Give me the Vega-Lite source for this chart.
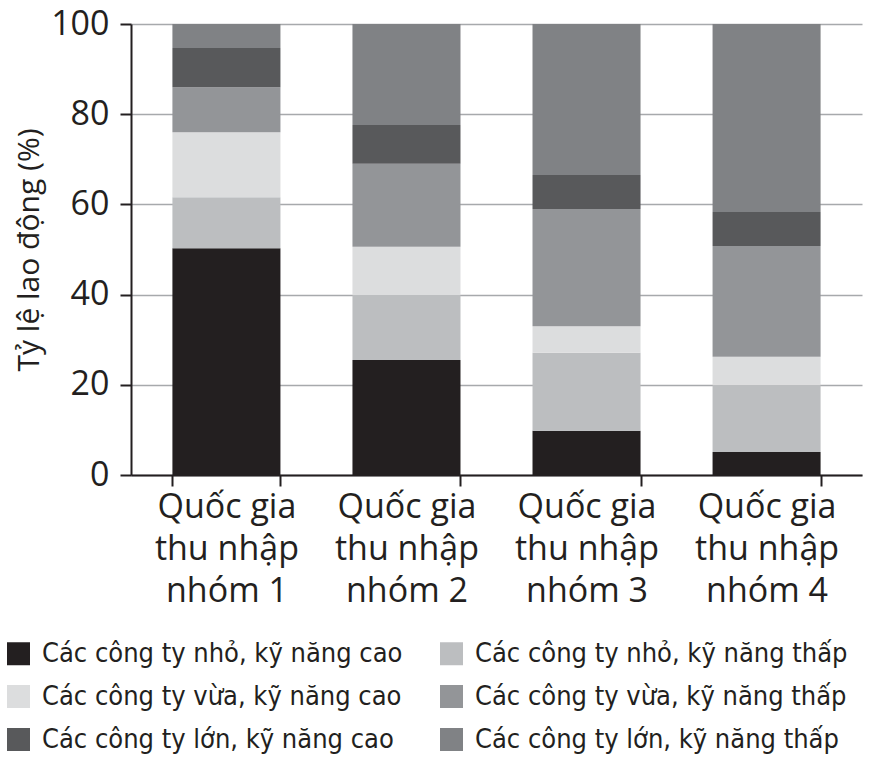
{
  "$schema": "https://vega.github.io/schema/vega-lite/v6.json",
  "width": 731,
  "height": 451,
  "autosize": {"type": "none"},
  "padding": {"left": 131, "top": 24, "right": 12, "bottom": 284},
  "config": {"view": {"stroke": null}, "font": "Open Sans"},
  "data": {
    "values": [
      {"group": "Quốc gia|thu nhập|nhóm 1", "series": "Các công ty nhỏ, kỹ năng cao", "ord": 1, "value": 50.3},
      {"group": "Quốc gia|thu nhập|nhóm 1", "series": "Các công ty nhỏ, kỹ năng thấp", "ord": 2, "value": 11.3},
      {"group": "Quốc gia|thu nhập|nhóm 1", "series": "Các công ty vừa, kỹ năng cao", "ord": 3, "value": 14.4},
      {"group": "Quốc gia|thu nhập|nhóm 1", "series": "Các công ty vừa, kỹ năng thấp", "ord": 4, "value": 10.0},
      {"group": "Quốc gia|thu nhập|nhóm 1", "series": "Các công ty lớn, kỹ năng cao", "ord": 5, "value": 8.7},
      {"group": "Quốc gia|thu nhập|nhóm 1", "series": "Các công ty lớn, kỹ năng thấp", "ord": 6, "value": 5.3},
      {"group": "Quốc gia|thu nhập|nhóm 2", "series": "Các công ty nhỏ, kỹ năng cao", "ord": 1, "value": 25.5},
      {"group": "Quốc gia|thu nhập|nhóm 2", "series": "Các công ty nhỏ, kỹ năng thấp", "ord": 2, "value": 14.4},
      {"group": "Quốc gia|thu nhập|nhóm 2", "series": "Các công ty vừa, kỹ năng cao", "ord": 3, "value": 10.7},
      {"group": "Quốc gia|thu nhập|nhóm 2", "series": "Các công ty vừa, kỹ năng thấp", "ord": 4, "value": 18.4},
      {"group": "Quốc gia|thu nhập|nhóm 2", "series": "Các công ty lớn, kỹ năng cao", "ord": 5, "value": 8.6},
      {"group": "Quốc gia|thu nhập|nhóm 2", "series": "Các công ty lớn, kỹ năng thấp", "ord": 6, "value": 22.4},
      {"group": "Quốc gia|thu nhập|nhóm 3", "series": "Các công ty nhỏ, kỹ năng cao", "ord": 1, "value": 9.8},
      {"group": "Quốc gia|thu nhập|nhóm 3", "series": "Các công ty nhỏ, kỹ năng thấp", "ord": 2, "value": 17.3},
      {"group": "Quốc gia|thu nhập|nhóm 3", "series": "Các công ty vừa, kỹ năng cao", "ord": 3, "value": 5.9},
      {"group": "Quốc gia|thu nhập|nhóm 3", "series": "Các công ty vừa, kỹ năng thấp", "ord": 4, "value": 26.0},
      {"group": "Quốc gia|thu nhập|nhóm 3", "series": "Các công ty lớn, kỹ năng cao", "ord": 5, "value": 7.5},
      {"group": "Quốc gia|thu nhập|nhóm 3", "series": "Các công ty lớn, kỹ năng thấp", "ord": 6, "value": 33.5},
      {"group": "Quốc gia|thu nhập|nhóm 4", "series": "Các công ty nhỏ, kỹ năng cao", "ord": 1, "value": 5.1},
      {"group": "Quốc gia|thu nhập|nhóm 4", "series": "Các công ty nhỏ, kỹ năng thấp", "ord": 2, "value": 14.9},
      {"group": "Quốc gia|thu nhập|nhóm 4", "series": "Các công ty vừa, kỹ năng cao", "ord": 3, "value": 6.2},
      {"group": "Quốc gia|thu nhập|nhóm 4", "series": "Các công ty vừa, kỹ năng thấp", "ord": 4, "value": 24.6},
      {"group": "Quốc gia|thu nhập|nhóm 4", "series": "Các công ty lớn, kỹ năng cao", "ord": 5, "value": 7.5},
      {"group": "Quốc gia|thu nhập|nhóm 4", "series": "Các công ty lớn, kỹ năng thấp", "ord": 6, "value": 41.7}
    ]
  },
  "mark": {"type": "bar"},
  "encoding": {
    "x": {
      "field": "group",
      "type": "nominal",
      "sort": null,
      "scale": {"paddingInner": 0.4, "paddingOuter": 0.23},
      "axis": {
        "title": null,
        "labelAngle": 0,
        "labelExpr": "split(datum.label, '|')",
        "labelFont": "Open Sans",
        "labelFontSize": 34,
        "labelLineHeight": 42,
        "labelColor": "#231f20",
        "labelPadding": 4,
        "labelLimit": 0,
        "tickBand": "extent",
        "tickSize": 11,
        "tickWidth": 2,
        "tickColor": "#231f20",
        "domainColor": "#231f20",
        "domainWidth": 2,
        "grid": false
      }
    },
    "y": {
      "field": "value",
      "type": "quantitative",
      "stack": "zero",
      "scale": {"domain": [0, 100], "nice": false},
      "axis": {
        "title": "Tỷ lệ lao động (%)",
        "titleFont": "Open Sans",
        "titleFontSize": 30,
        "titleFontWeight": "normal",
        "titleColor": "#231f20",
        "titlePadding": 6,
        "values": [0, 20, 40, 60, 80, 100],
        "labelFont": "Open Sans",
        "labelFontSize": 34,
        "labelColor": "#231f20",
        "labelPadding": 11,
        "tickSize": 11,
        "tickWidth": 2,
        "tickColor": "#231f20",
        "domainColor": "#231f20",
        "domainWidth": 2,
        "grid": true,
        "gridColor": "#a7a9ac",
        "gridWidth": 1.5
      }
    },
    "color": {
      "field": "series",
      "type": "nominal",
      "scale": {
        "domain": [
          "Các công ty nhỏ, kỹ năng cao",
          "Các công ty nhỏ, kỹ năng thấp",
          "Các công ty vừa, kỹ năng cao",
          "Các công ty vừa, kỹ năng thấp",
          "Các công ty lớn, kỹ năng cao",
          "Các công ty lớn, kỹ năng thấp"
        ],
        "range": ["#231f20", "#bcbec0", "#dcddde", "#939598", "#58595b", "#808285"]
      },
      "legend": {
        "title": null,
        "orient": "none",
        "legendX": -126,
        "legendY": 616,
        "direction": "horizontal",
        "columns": 2,
        "symbolType": "square",
        "symbolSize": 529,
        "symbolStrokeWidth": 0,
        "labelFont": "DejaVu Sans Condensed, Roboto",
        "labelFontSize": 27,
        "labelColor": "#231f20",
        "labelOffset": 10,
        "labelLimit": 0,
        "rowPadding": 15,
        "columnPadding": 35
      }
    },
    "order": {"field": "ord", "type": "quantitative"}
  }
}
